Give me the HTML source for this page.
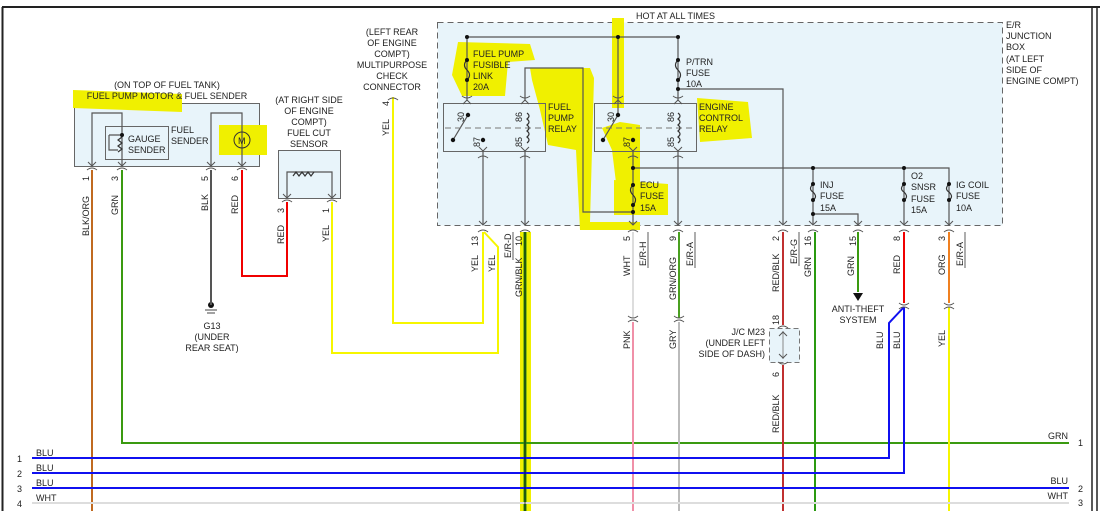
<!DOCTYPE html>
<html><head><meta charset="utf-8"><style>
body{margin:0;background:#fff;}
svg{display:block;font-family:"Liberation Sans",sans-serif;}
text{font-size:9px;fill:#222;}
</style></head><body>
<svg width="1104" height="511" viewBox="0 0 1104 511" xmlns="http://www.w3.org/2000/svg">
<rect x="0" y="0" width="1104" height="511" fill="#fff"/>
<line x1="2" y1="7" x2="1100" y2="7" stroke="#222" stroke-width="2"/>
<line x1="2.5" y1="7" x2="2.5" y2="511" stroke="#222" stroke-width="2"/>
<line x1="1092" y1="7" x2="1092" y2="511" stroke="#222" stroke-width="1.5"/>
<line x1="1097" y1="7" x2="1097" y2="511" stroke="#222" stroke-width="1.5"/>

<rect x="437.5" y="22.5" width="565" height="203" fill="#e8f4fa" stroke="#666" stroke-dasharray="6,4"/>
<rect x="74.5" y="103.5" width="185" height="63" fill="#e8f4fa" stroke="#666"/>
<rect x="278.5" y="150.5" width="62" height="48" fill="#e8f4fa" stroke="#666"/>
<rect x="769.5" y="328.5" width="30" height="34" fill="#e8f4fa" stroke="#777" stroke-dasharray="5,3"/>

<g fill="#f0f000">
<path d="M73,90 L182,94 L182,112 L73,108Z"/>
<rect x="219" y="125" width="48" height="30"/>
<path d="M458,42 L530,44 L535,60 L508,62 L505,96 L462,96 L452,75 Z"/>
<path d="M530,68 L590,68 L594,78 L590,222 L640,222 L640,230 L580,230 L576,150 L548,145 L540,110 L532,80Z"/>
<rect x="612" y="18" width="12" height="90"/>
<path d="M602,128 L620,122 L640,125 L640,215 L620,215 L612,150 Z"/>
<path d="M614,180 L668,184 L668,215 L614,215Z"/>
<path d="M697,98 L748,102 L752,138 L700,142 Z"/>
<rect x="520" y="232" width="11" height="279"/>
</g>
<rect x="105.5" y="126.5" width="63" height="33" fill="none" stroke="#666"/>
<rect x="443.5" y="103.5" width="102" height="48" fill="none" stroke="#666"/>
<rect x="594.5" y="103.5" width="102" height="48" fill="none" stroke="#666"/>

<g stroke="#555" stroke-width="1.2" fill="none">
<path d="M92,166 V113 H122 V166"/>
<path d="M211,166 V113 H242 V166"/>
<path d="M287,198 V172 H332 V198"/>
<path d="M467,100 V37 H678 V100"/>
<path d="M618,37 V115"/>
<path d="M678,89 H783 V225"/>
<path d="M525,100 V68 H583 V212 H633"/>
<path d="M483,151 V225"/><path d="M525,151 V225"/>
<path d="M633,151 V225"/><path d="M678,151 V225"/>
<path d="M633,168 H949 V225"/>
<path d="M813,168 V225"/><path d="M813,214 H858 V225"/>
<path d="M904,168 V225"/>
<path d="M468,115 L453,140"/><path d="M618,115 L603,140"/>
<path d="M109,135 H122 M109,135 V150 H118"/>
</g>
<g stroke="#777" stroke-dasharray="6,4" stroke-width="1"><line x1="445" y1="128" x2="543" y2="128"/><line x1="596" y1="128" x2="694" y2="128"/></g>
<g fill="none" stroke="#333" stroke-width="1.2">
<path d="M467,60 q-5,5 0,10 q5,5 0,10"/>
<path d="M678,60 q-5,5 0,10 q5,5 0,10"/>
<path d="M633,185 q-5,5 0,10 q5,5 0,10"/>
<path d="M813,184 q-5,5 0,8 q5,5 0,8"/>
<path d="M904,184 q-5,5 0,8 q5,5 0,8"/>
<path d="M949,184 q-5,5 0,8 q5,5 0,8"/>
<path d="M527,113 q4,3 0,6 q4,3 0,6 q4,3 0,6 q4,3 0,6 q4,3 0,6"/>
<path d="M678,113 q4,3 0,6 q4,3 0,6 q4,3 0,6 q4,3 0,6 q4,3 0,6"/>
<path d="M122,137 l-4,3 4,3 -4,3 4,3 -4,3" />
<path d="M293,176 l3,-4 3,4 3,-4 3,4 3,-4 3,4 3,-4"/>
</g>
<g fill="#111">
<circle cx="467" cy="37" r="2"/><circle cx="618" cy="37" r="2"/><circle cx="678" cy="37" r="2"/>
<circle cx="467" cy="60" r="2"/><circle cx="467" cy="80" r="2"/><circle cx="678" cy="60" r="2"/><circle cx="678" cy="80" r="2"/><circle cx="678" cy="89" r="2"/>
<circle cx="468" cy="115" r="2.2"/><circle cx="453" cy="140" r="2.2"/><circle cx="483" cy="140" r="2.2"/>
<circle cx="618" cy="115" r="2.2"/><circle cx="603" cy="140" r="2.2"/><circle cx="633" cy="140" r="2.2"/>
<circle cx="633" cy="168" r="2"/><circle cx="633" cy="185" r="2"/><circle cx="633" cy="205" r="2"/><circle cx="633" cy="212" r="2"/>
<circle cx="813" cy="168" r="2"/><circle cx="904" cy="168" r="2"/>
<circle cx="813" cy="184" r="2"/><circle cx="813" cy="200" r="2"/><circle cx="813" cy="214" r="2"/>
<circle cx="904" cy="184" r="2"/><circle cx="904" cy="200" r="2"/><circle cx="949" cy="184" r="2"/><circle cx="949" cy="200" r="2"/>
<circle cx="122" cy="135" r="2"/><circle cx="211" cy="305" r="3"/>
<path d="M853,293 h10 l-5,8z"/>
</g>
<circle cx="242" cy="140" r="8" fill="none" stroke="#333"/><text x="238" y="144" font-size="10">M</text>
<line x1="205" y1="310" x2="217" y2="310" stroke="#444"/><line x1="207" y1="313" x2="215" y2="313" stroke="#444"/>

<g fill="none" stroke-width="2">
<path d="M92,170 V511" stroke="#c06a20"/>
<path d="M122,170 V443 H1069" stroke="#3a9a10"/>
<path d="M211,170 V305" stroke="#555"/>
<path d="M242,170 V276 H287 V202" stroke="#f00000"/>
<path d="M332,202 V353 H498 V247 L484,232" stroke="#f6f600"/>
<path d="M393,97 V323 H483 V232" stroke="#f6f600"/>
<path d="M525,232 V511" stroke="#2a8a10" stroke-width="3"/>
<path d="M633,232 V318" stroke="#ddd"/><path d="M633,322 V511" stroke="#f090a8"/>
<path d="M679,232 V318" stroke="#4aa020"/><path d="M679,322 V511" stroke="#bbb"/>
<path d="M783,232 V325 M783,365 V511" stroke="#c03030"/>
<path d="M815,232 V511" stroke="#2a9a10"/>
<path d="M858,232 V292" stroke="#3a9a10"/>
<path d="M904,232 V303" stroke="#f00000"/>
<path d="M949,232 V303" stroke="#f08020"/>
<path d="M949,307 V511" stroke="#f6f600"/>
<path d="M32,458 H889 V323 L904,307" stroke="#1010f0"/>
<path d="M32,473 H904 V307" stroke="#1010f0"/>
<path d="M32,488 H1069" stroke="#1010f0"/>
<path d="M32,503 H1069" stroke="#ddd"/>
</g>
<line x1="525" y1="232" x2="525" y2="511" stroke="#111" stroke-width="0.8"/>
<line x1="783" y1="331" x2="783" y2="359" stroke="#888"/>

<g fill="none" stroke="#555" stroke-width="1">
<path d="M88,162 l4,4 4,-4 M87,170 q5,-4 10,0 M118,162 l4,4 4,-4 M117,170 q5,-4 10,0 M207,162 l4,4 4,-4 M206,170 q5,-4 10,0 M238,162 l4,4 4,-4 M237,170 q5,-4 10,0"/>
<path d="M283,194 l4,4 4,-4 M282,202 q5,-4 10,0 M328,194 l4,4 4,-4 M327,202 q5,-4 10,0 M388,100 q5,-4 10,0"/>
<path d="M479,221 l4,4 4,-4 M478,232 q5,-4 10,0 M521,221 l4,4 4,-4 M520,232 q5,-4 10,0 M629,221 l4,4 4,-4 M628,232 q5,-4 10,0 M674,221 l4,4 4,-4 M673,232 q5,-4 10,0"/>
<path d="M779,221 l4,4 4,-4 M778,232 q5,-4 10,0 M809,221 l4,4 4,-4 M808,232 q5,-4 10,0 M854,221 l4,4 4,-4 M853,232 q5,-4 10,0 M900,221 l4,4 4,-4 M899,232 q5,-4 10,0 M945,221 l4,4 4,-4 M944,232 q5,-4 10,0"/>
<path d="M463,104 l4,-4 4,4 M462,96 q5,4 10,0 M521,104 l4,-4 4,4 M520,96 q5,4 10,0 M614,104 l4,-4 4,4 M613,96 q5,4 10,0 M674,104 l4,-4 4,4 M673,96 q5,4 10,0"/>
<path d="M479,147 l4,4 4,-4 M478,158 q5,-4 10,0 M521,147 l4,4 4,-4 M520,158 q5,-4 10,0 M629,147 l4,4 4,-4 M628,158 q5,-4 10,0 M674,147 l4,4 4,-4 M673,158 q5,-4 10,0"/>
<path d="M628,316 q5,4 10,0 M628,322 q5,-4 10,0 M674,316 q5,4 10,0 M674,322 q5,-4 10,0 M899,303 q5,4 10,0 M899,309 q5,-4 10,0 M944,303 q5,4 10,0 M944,309 q5,-4 10,0"/>
<path d="M778,328 q5,-4 10,0 M779,336 l4,-4 4,4 M779,354 l4,4 4,-4 M778,362 q5,4 10,0"/>
</g>

<text x="636" y="19">HOT AT ALL TIMES</text>
<g>
<text x="1006" y="28">E/R</text><text x="1006" y="39">JUNCTION</text><text x="1006" y="50">BOX</text><text x="1006" y="62">(AT LEFT</text><text x="1006" y="73">SIDE OF</text><text x="1006" y="84">ENGINE COMPT)</text>
</g>
<g text-anchor="middle">
<text x="167" y="88">(ON TOP OF FUEL TANK)</text>
<text x="167" y="99">FUEL PUMP MOTOR &amp; FUEL SENDER</text>
<text x="309" y="103">(AT RIGHT SIDE</text><text x="309" y="114">OF ENGINE</text><text x="309" y="125">COMPT)</text><text x="309" y="136">FUEL CUT</text><text x="309" y="147">SENSOR</text>
<text x="392" y="35">(LEFT REAR</text><text x="392" y="46">OF ENGINE</text><text x="392" y="57">COMPT)</text><text x="392" y="68">MULTIPURPOSE</text><text x="392" y="79">CHECK</text><text x="392" y="90">CONNECTOR</text>
<text x="212" y="329">G13</text><text x="212" y="340">(UNDER</text><text x="212" y="351">REAR SEAT)</text>
<text x="858" y="312">ANTI-THEFT</text><text x="858" y="323">SYSTEM</text>
</g>
<text x="128" y="142">GAUGE</text><text x="128" y="153">SENDER</text>
<text x="171" y="133">FUEL</text><text x="171" y="144">SENDER</text>
<text x="473" y="57">FUEL PUMP</text><text x="473" y="68">FUSIBLE</text><text x="473" y="79">LINK</text><text x="473" y="90">20A</text>
<text x="548" y="110">FUEL</text><text x="548" y="121">PUMP</text><text x="548" y="132">RELAY</text>
<text x="686" y="65">P/TRN</text><text x="686" y="76">FUSE</text><text x="686" y="87">10A</text>
<text x="699" y="110">ENGINE</text><text x="699" y="121">CONTROL</text><text x="699" y="132">RELAY</text>
<text x="640" y="188">ECU</text><text x="640" y="199">FUSE</text><text x="640" y="211">15A</text>
<text x="820" y="188">INJ</text><text x="820" y="199">FUSE</text><text x="820" y="211">15A</text>
<text x="911" y="179">O2</text><text x="911" y="190">SNSR</text><text x="911" y="202">FUSE</text><text x="911" y="213">15A</text>
<text x="956" y="188">IG COIL</text><text x="956" y="199">FUSE</text><text x="956" y="211">10A</text>
<g text-anchor="end"><text x="765" y="335">J/C M23</text><text x="765" y="346">(UNDER LEFT</text><text x="765" y="357">SIDE OF DASH)</text></g>
<text x="36" y="456">BLU</text><text x="36" y="471">BLU</text><text x="36" y="486">BLU</text><text x="36" y="501">WHT</text>
<text x="17" y="462">1</text><text x="17" y="477">2</text><text x="17" y="492">3</text><text x="17" y="507">4</text>
<g text-anchor="end"><text x="1068" y="439">GRN</text><text x="1068" y="484">BLU</text><text x="1068" y="499">WHT</text></g>
<text x="1078" y="446">1</text><text x="1078" y="492">2</text><text x="1078" y="506">3</text>

<g>
<text transform="translate(89,236) rotate(-90)">BLK/ORG</text>
<text transform="translate(118,215) rotate(-90)">GRN</text>
<text transform="translate(208,211) rotate(-90)">BLK</text>
<text transform="translate(238,214) rotate(-90)">RED</text>
<text transform="translate(284,244) rotate(-90)">RED</text>
<text transform="translate(329,242) rotate(-90)">YEL</text>
<text transform="translate(389,136) rotate(-90)">YEL</text>
<text transform="translate(478,272) rotate(-90)">YEL</text>
<text transform="translate(495,272) rotate(-90)">YEL</text>
<text transform="translate(522,297) rotate(-90)">GRN/BLK</text>
<text transform="translate(630,276) rotate(-90)">WHT</text>
<text transform="translate(676,300) rotate(-90)">GRN/ORG</text>
<text transform="translate(779,292) rotate(-90)">RED/BLK</text>
<text transform="translate(811,277) rotate(-90)">GRN</text>
<text transform="translate(854,276) rotate(-90)">GRN</text>
<text transform="translate(900,274) rotate(-90)">RED</text>
<text transform="translate(945,275) rotate(-90)">ORG</text>
<text transform="translate(630,349) rotate(-90)">PNK</text>
<text transform="translate(676,349) rotate(-90)">GRY</text>
<text transform="translate(883,349) rotate(-90)">BLU</text>
<text transform="translate(900,349) rotate(-90)">BLU</text>
<text transform="translate(945,347) rotate(-90)">YEL</text>
<text transform="translate(779,433) rotate(-90)">RED/BLK</text>
<text transform="translate(89,181) rotate(-90)">1</text>
<text transform="translate(118,181) rotate(-90)">3</text>
<text transform="translate(208,181) rotate(-90)">5</text>
<text transform="translate(238,181) rotate(-90)">6</text>
<text transform="translate(284,213) rotate(-90)">3</text>
<text transform="translate(329,213) rotate(-90)">1</text>
<text transform="translate(389,106) rotate(-90)">4</text>
<text transform="translate(478,246) rotate(-90)">13</text>
<text transform="translate(522,246) rotate(-90)">10</text>
<text transform="translate(630,241) rotate(-90)">5</text>
<text transform="translate(676,241) rotate(-90)">9</text>
<text transform="translate(779,241) rotate(-90)">2</text>
<text transform="translate(811,246) rotate(-90)">16</text>
<text transform="translate(856,246) rotate(-90)">15</text>
<text transform="translate(900,241) rotate(-90)">8</text>
<text transform="translate(945,241) rotate(-90)">3</text>
<text transform="translate(779,325) rotate(-90)">18</text>
<text transform="translate(779,377) rotate(-90)">6</text>
<text transform="translate(511,258) rotate(-90)">E/R-D</text>
<text transform="translate(646,266) rotate(-90)">E/R-H</text>
<text transform="translate(693,266) rotate(-90)">E/R-A</text>
<text transform="translate(797,264) rotate(-90)">E/R-G</text>
<text transform="translate(963,266) rotate(-90)">E/R-A</text>
<text transform="translate(464,122) rotate(-90)">30</text>
<text transform="translate(522,122) rotate(-90)">86</text>
<text transform="translate(480,147) rotate(-90)">87</text>
<text transform="translate(522,147) rotate(-90)">85</text>
<text transform="translate(614,122) rotate(-90)">30</text>
<text transform="translate(674,122) rotate(-90)">86</text>
<text transform="translate(630,147) rotate(-90)">87</text>
<text transform="translate(674,147) rotate(-90)">85</text>
</g>
<g stroke="#333" stroke-width="0.8"><line x1="513" y1="232" x2="513" y2="260"/><line x1="648" y1="232" x2="648" y2="268"/><line x1="695" y1="232" x2="695" y2="268"/><line x1="799" y1="232" x2="799" y2="266"/><line x1="965" y1="232" x2="965" y2="268"/></g>
</svg>
</body></html>
